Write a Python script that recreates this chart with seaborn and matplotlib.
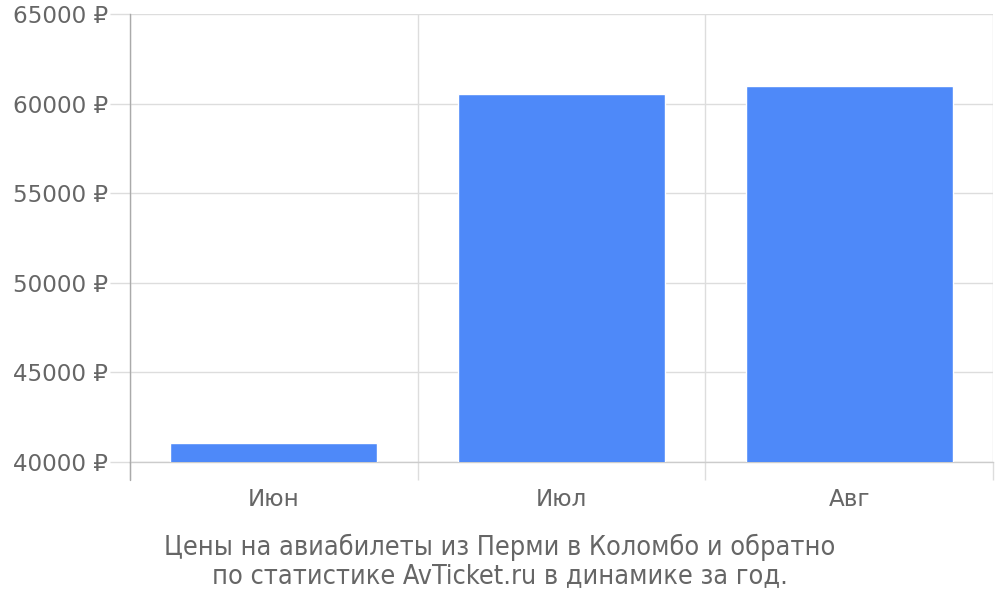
import matplotlib
matplotlib.use("Agg")
import matplotlib.pyplot as plt
import seaborn as sns
import pandas as pd
from matplotlib.ticker import FixedLocator, FuncFormatter

months = ["Июн", "Июл", "Авг"]
prices = [41055, 60555, 60980]
y_ticks = [40000, 45000, 50000, 55000, 60000, 65000]
title_lines = ["Цены на авиабилеты из Перми в Коломбо и обратно",
               "по статистике AvTicket.ru в динамике за год."]

sns.set_theme(style="white")
plt.rcParams['font.family'] = ['DejaVu Sans']

df = pd.DataFrame({"month": months, "price": prices})

fig = plt.figure(figsize=(10, 6), dpi=100)
ax = fig.add_axes([0.13, 0.23, 0.863, 0.7467])

sns.barplot(data=df, x="month", y="price", color="#4e89f9", saturation=1,
            width=0.72, ax=ax, zorder=3)

ax.set_ylim(40000, 65000)
ax.set_xlim(-0.5, 2.5)
ax.yaxis.set_major_locator(FixedLocator(y_ticks))
ax.yaxis.set_major_formatter(FuncFormatter(lambda v, p: f"{int(v)} ₽"))
ax.set_xlabel("")
ax.set_ylabel("")

grid_c = "#dddddd"
ax.grid(axis="y", color=grid_c, linewidth=1, zorder=0)
ax.xaxis.set_minor_locator(FixedLocator([-0.5, 0.5, 1.5, 2.5]))
ax.grid(axis="x", which="minor", color=grid_c, linewidth=1, zorder=0)
ax.grid(axis="x", which="major", visible=False)

ax.tick_params(axis="y", which="major", length=14.4, width=1, color=grid_c,
               labelsize=16.6, labelcolor="#666666", pad=1.5, left=True)
ax.tick_params(axis="x", which="major", length=0, labelsize=16.6,
               labelcolor="#666666", pad=19)
ax.tick_params(axis="x", which="minor", length=13, width=1, color=grid_c,
               bottom=True, direction="out")

for s in ["top", "right"]:
    ax.spines[s].set_visible(False)
ax.spines["left"].set_color("#aaaaaa")
ax.spines["left"].set_linewidth(1)
ax.spines["bottom"].set_color("#cccccc")
ax.spines["bottom"].set_linewidth(1)
ax.plot([0, 0], [-0.04, 0], transform=ax.transAxes, color="#aaaaaa",
        linewidth=1, clip_on=False, zorder=5)

fig.text(0.5, 0.064, "\n".join(title_lines), ha="center", va="center",
         fontsize=19.4, color="#666666", fontstretch="condensed",
         linespacing=1.1)

fig.savefig("out.png", dpi=100, facecolor="white")
